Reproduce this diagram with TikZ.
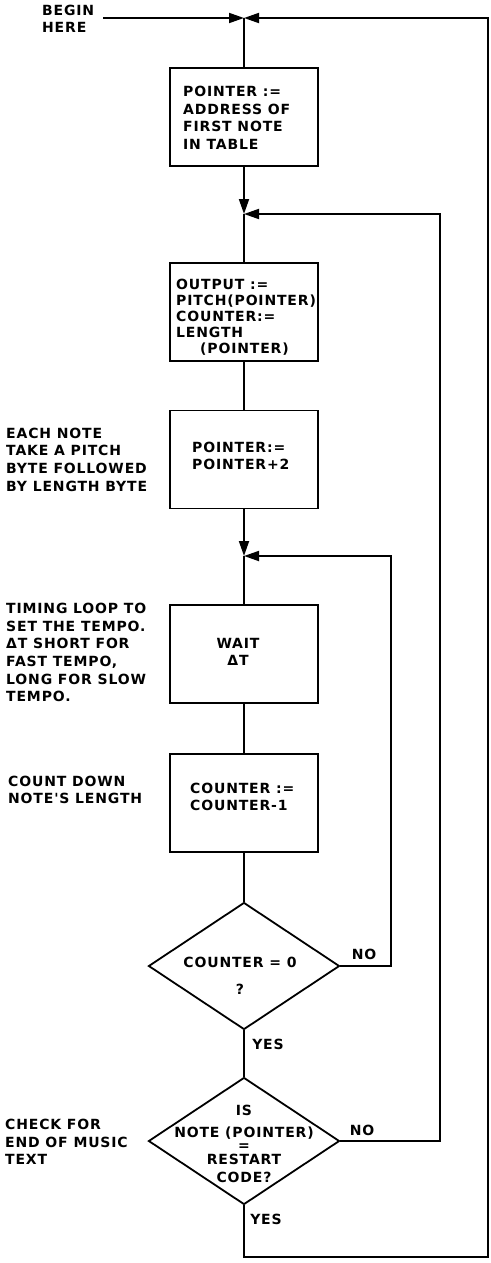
\documentclass[tikz,border=0pt]{standalone}
\usepackage{fontspec}
\newfontfamily\lfont[LetterSpace=6]{DejaVu Sans Bold}
\usetikzlibrary{arrows.meta,shapes.geometric}
\begin{document}
\begin{tikzpicture}[x=1pt,y=-1pt,
  flow/.style={line width=1.8pt, draw=black},
  arr/.style={flow,-{Triangle[length=15pt,width=10pt]}},
  box/.style={draw=black, line width=1.8pt, minimum width=148pt, minimum height=98pt, inner sep=0pt},
  dia/.style={draw=black, diamond, line width=1.8pt, minimum width=191pt, minimum height=127pt, inner sep=0pt},
  txt/.style={font=\lfont\fontsize{14}{17.6}\selectfont, inner sep=0pt, align=left},
  ctxt/.style={txt, align=center},
]
\useasboundingbox (0,0) rectangle (490,1263);

% boxes
\node[box] (b1) at (244,117) {};
\node[box] (b2) at (244,312) {};
\node[box] (b3) at (244,459.5) {};
\node[box] (b4) at (244,654) {};
\node[box] (b5) at (244,803) {};
\node[dia] (d1) at (244,966) {};
\node[dia] (d2) at (244,1141) {};

% texts in shapes
\node[txt, anchor=west] (t1) at (183,118) {POINTER :=\\ADDRESS OF\\FIRST NOTE\\IN TABLE};
\node[txt, anchor=west, font=\lfont\fontsize{14}{15.9}\selectfont] (t2) at (176,317) {OUTPUT :=\\PITCH(POINTER)\\COUNTER:=\\LENGTH\\\hspace*{24pt}(POINTER)};
\node[txt, anchor=west] (t3) at (192,456) {POINTER:=\\POINTER+2};
\node[ctxt] (t4) at (238,652) {WAIT\\ΔT};
\node[txt, anchor=west] (t5) at (190,797) {COUNTER :=\\COUNTER-1};
\node[ctxt] (t6) at (240,976) {COUNTER = 0\\[9pt]?};
\node[ctxt] (t7) at (244,1144) {IS\\[4.5pt]NOTE (POINTER)\\[-5pt]=\\[-3pt]RESTART\\[0.5pt]CODE?};

% side texts
\node[txt, anchor=west] (s0) at (42,19) {BEGIN\\HERE};
\node[txt, anchor=west] (s1) at (6,459.5) {EACH NOTE\\TAKE A PITCH\\BYTE FOLLOWED\\BY LENGTH BYTE};
\node[txt, anchor=west] (s2) at (6,652.5) {TIMING LOOP TO\\SET THE TEMPO.\\ΔT SHORT FOR\\FAST TEMPO,\\LONG FOR SLOW\\TEMPO.};
\node[txt, anchor=west] (s3) at (8,790) {COUNT DOWN\\NOTE'S LENGTH};
\node[txt, anchor=west] (s4) at (5,1142) {CHECK FOR\\END OF MUSIC\\TEXT};

% labels
\node[txt] (no1) at (364,954) {NO};
\node[txt] (no2) at (362,1130) {NO};
\node[txt] (yes1) at (268,1044) {YES};
\node[txt] (yes2) at (266,1219) {YES};

% coordinates
\coordinate (begin) at (103,18);
\coordinate (j1) at (244,18);
\coordinate (j2) at (244,214);
\coordinate (j3) at (244,556);
\coordinate (r1) at (488,1257);
\coordinate (r2) at (440,214);
\coordinate (r3) at (391,556);

% connectors
\draw[arr] (begin) -- (j1);
\draw[flow] (j1) -- (b1.north);
\draw[arr] (b1.south) -- (j2);
\draw[flow] (j2) -- (b2.north);
\draw[flow] (b2.south) -- (b3.north);
\draw[arr] (b3.south) -- (j3);
\draw[flow] (j3) -- (b4.north);
\draw[flow] (b4.south) -- (b5.north);
\draw[flow] (b5.south) -- (d1.north);
\draw[flow] (d1.south) -- (d2.north);
\draw[arr] (d1.east) -| (r3) -- (j3);
\draw[arr] (d2.east) -| (r2) -- (j2);
\draw[arr] (d2.south) |- (r1) |- (j1);
\end{tikzpicture}
\end{document}
